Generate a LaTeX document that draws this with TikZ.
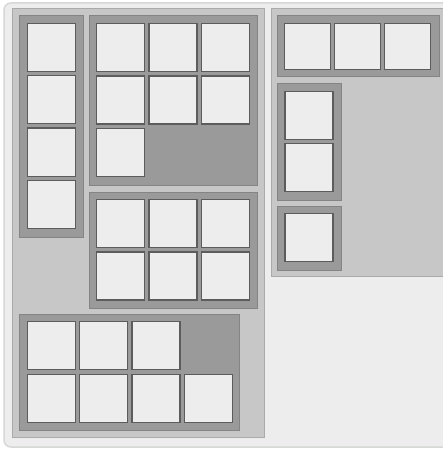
\documentclass[tikz,border=0pt]{standalone}
\usepackage{tikz}

\definecolor{frameback}{HTML}{ECEDEC}
\definecolor{frameedge}{HTML}{D6D8D6}
\definecolor{panelback}{HTML}{C6C7C6}
\definecolor{paneledge}{HTML}{A9AAA9}
\definecolor{groupback}{HTML}{9A9A9A}
\definecolor{groupedge}{HTML}{848484}
\definecolor{cellback}{HTML}{ECEDEC}
\definecolor{celledge}{HTML}{5C5C5C}

\begin{document}
\begin{tikzpicture}[
    x=1pt, y=-1pt,
    frame/.style={fill=frameback, draw=frameedge, line width=1.5pt, rounded corners=7pt},
    panel/.style={fill=panelback, draw=paneledge, line width=1pt},
    group/.style={fill=groupback, draw=groupedge, line width=1pt},
    cell/.style={rectangle, fill=cellback, draw=celledge, line width=1.2pt,
        minimum width=48pt, minimum height=48pt, inner sep=0pt},
    wide/.style={cell, minimum width=46pt, minimum height=46pt}
]
\clip (0,0) rectangle (443,449);
\fill[white] (0,0) rectangle (443,449);
\draw[frame] (4,3) rectangle (470,447);

% left panel
\draw[panel] (12,9) rectangle (264,437);
\draw[group] (19,16) rectangle (83,237);
\foreach \i in {0,...,3}
    \node[cell] (col\i) at (51.5, 47.5+52.3*\i) {};

\draw[group] (89,16) rectangle (257,185);
\foreach \r/\c in {0/0,0/1,0/2,1/0,1/1,1/2,2/0}
    \node[cell] (top\r\c) at (120.5+52.5*\c, 47.5+52.5*\r) {};

\draw[group] (89,192) rectangle (257,308);
\foreach \r in {0,1}
    \foreach \c in {0,1,2}
        \node[cell] (mid\r\c) at (120.5+52.5*\c, 223.5+52.5*\r) {};

\draw[group] (19,314) rectangle (239,430);
\foreach \c in {0,1,2}
    \node[cell] (low0\c) at (51.5+52.2*\c, 345.5) {};
\foreach \c in {0,...,3}
    \node[cell] (low1\c) at (51.5+52.2*\c, 398.5) {};

% right panel
\draw[panel] (271,9) rectangle (460,276);
\draw[group] (277,16) rectangle (439,77);
\foreach \c in {0,1,2}
    \node[wide] (row\c) at (307.5+50*\c, 46.5) {};

\draw[group] (277,84) rectangle (341,200);
\foreach \i in {0,1}
    \node[cell] (pair\i) at (309, 115.5+52*\i) {};

\draw[group] (277,206) rectangle (341,270);
\node[cell] (single) at (309, 237.5) {};
\end{tikzpicture}
\end{document}
